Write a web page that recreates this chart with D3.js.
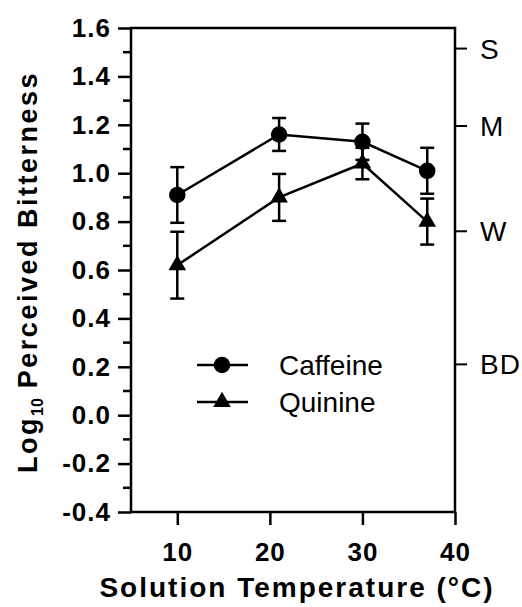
<!DOCTYPE html>
<html>
<head>
<meta charset="utf-8">
<script src="https://cdn.jsdelivr.net/npm/d3@7"></script>
<style>
  body { margin: 0; background: #fff; }
  text { font-family: Arial, "Liberation Sans", sans-serif; }
</style>
</head>
<body>
<div id="chart"></div>
<script>
// values
const temps = [10, 21, 30, 37];
const caffeine = [0.91, 1.16, 1.13, 1.01];
const caffeineErr = [0.115, 0.068, 0.075, 0.095];
const quinine = [0.62, 0.90, 1.04, 0.80];
const quinineErr = [0.138, 0.097, 0.065, 0.095];
const yTicks = [-0.4, -0.2, 0.0, 0.2, 0.4, 0.6, 0.8, 1.0, 1.2, 1.4, 1.6];
const xTicks = [10, 20, 30, 40];
const scaleLabels = ["S", "M", "W", "BD"];
const scaleValues = [1.515, 1.195, 0.76, 0.21];

const width = 522, height = 607;
const svg = d3.select("#chart").append("svg")
    .attr("width", width)
    .attr("height", height);

const x = d3.scaleLinear().domain([5, 40]).range([131, 455]);
const y = d3.scaleLinear().domain([-0.4, 1.6]).range([512, 28]);

// frame
svg.append("rect")
    .attr("x", x(5)).attr("y", y(1.6))
    .attr("width", x(40) - x(5)).attr("height", y(-0.4) - y(1.6))
    .attr("fill", "none").attr("stroke", "#000").attr("stroke-width", 2.5);

// left axis
const yAxis = svg.append("g")
    .attr("transform", `translate(${x(5)},0)`)
    .call(d3.axisLeft(y).tickValues(yTicks).tickSize(13).tickSizeOuter(0).tickPadding(7));
yAxis.select(".domain").remove();
yAxis.selectAll("line").attr("stroke-width", 2.5);
yAxis.selectAll("text").attr("font-size", 26).attr("font-weight", "bold").attr("fill", "#000")
    .attr("letter-spacing", 1)
    .text(d => d3.format(".1f")(d).replace("−", "-"));

// minor ticks
const minor = d3.range(-0.3, 1.6, 0.2);
svg.append("g").selectAll("line").data(minor).join("line")
    .attr("x1", x(5) - 8).attr("x2", x(5))
    .attr("y1", d => y(d)).attr("y2", d => y(d))
    .attr("stroke", "#000").attr("stroke-width", 2.5);

// bottom axis
const xAxis = svg.append("g")
    .attr("transform", `translate(0,${y(-0.4)})`)
    .call(d3.axisBottom(x).tickValues(xTicks).tickSize(13).tickSizeOuter(0).tickPadding(18));
xAxis.select(".domain").remove();
xAxis.selectAll("line").attr("stroke-width", 2.5);
xAxis.selectAll("text").attr("font-size", 26).attr("font-weight", "bold").attr("fill", "#000")
    .attr("letter-spacing", 1);

// right descriptor axis
const right = svg.append("g").attr("transform", `translate(${x(40)},0)`);
right.selectAll("line").data(scaleValues).join("line")
    .attr("x1", 0).attr("x2", 12)
    .attr("y1", d => y(d)).attr("y2", d => y(d))
    .attr("stroke", "#000").attr("stroke-width", 2);
right.selectAll("text").data(scaleLabels).join("text")
    .attr("x", 25).attr("y", (d, i) => y(scaleValues[i]))
    .attr("dy", "0.36em")
    .attr("font-size", 28)
    .attr("letter-spacing", 1)
    .text(d => d);

// axis titles
svg.append("text")
    .attr("x", 297).attr("y", 597)
    .attr("text-anchor", "middle")
    .attr("font-size", 28).attr("font-weight", "bold")
    .attr("letter-spacing", 2)
    .text("Solution Temperature (°C)");

const yt = svg.append("text")
    .attr("transform", `translate(37,272) rotate(-90)`)
    .attr("text-anchor", "middle")
    .attr("font-size", 27).attr("font-weight", "bold")
    .attr("letter-spacing", 2.5);
yt.append("tspan").text("Log");
yt.append("tspan").attr("font-size", 16).attr("dy", 6).attr("letter-spacing", 0).text("10");
yt.append("tspan").attr("dy", -6).text(" Perceived Bitterness");

// series
const series = [
    { name: "Caffeine", vals: caffeine, err: caffeineErr, shape: d3.symbolCircle },
    { name: "Quinine", vals: quinine, err: quinineErr, shape: d3.symbolTriangle }
];
const markerSize = s => s === d3.symbolCircle ? 215 : 135;

const line = d3.line().x(d => x(d[0])).y(d => y(d[1]));

series.forEach(s => {
    const pts = temps.map((t, i) => [t, s.vals[i], s.err[i]]);
    const g = svg.append("g");
    g.append("path")
        .attr("d", line(pts))
        .attr("fill", "none").attr("stroke", "#000").attr("stroke-width", 2.5);
    // error bars
    const eb = g.selectAll(".eb").data(pts).join("g");
    eb.append("line")
        .attr("x1", d => x(d[0])).attr("x2", d => x(d[0]))
        .attr("y1", d => y(d[1] - d[2])).attr("y2", d => y(d[1] + d[2]))
        .attr("stroke", "#000").attr("stroke-width", 2.5);
    [-1, 1].forEach(sg => {
        eb.append("line")
            .attr("x1", d => x(d[0]) - 7).attr("x2", d => x(d[0]) + 7)
            .attr("y1", d => y(d[1] + sg * d[2])).attr("y2", d => y(d[1] + sg * d[2]))
            .attr("stroke", "#000").attr("stroke-width", 2.5);
    });
    g.selectAll(".m").data(pts).join("path")
        .attr("transform", d => `translate(${x(d[0])},${y(d[1])})`)
        .attr("d", d3.symbol().type(s.shape).size(markerSize(s.shape)))
        .attr("fill", "#000");
});

// legend
const legend = svg.append("g");
series.forEach((s, i) => {
    const ly = 365 + i * 37;
    legend.append("line")
        .attr("x1", 197).attr("x2", 248).attr("y1", ly).attr("y2", ly)
        .attr("stroke", "#000").attr("stroke-width", 2.5);
    legend.append("path")
        .attr("transform", `translate(222,${ly})`)
        .attr("d", d3.symbol().type(s.shape).size(markerSize(s.shape)))
        .attr("fill", "#000");
    legend.append("text")
        .attr("x", 279).attr("y", ly).attr("dy", "0.36em")
        .attr("font-size", 28)
        .text(s.name);
});
</script>
</body>
</html>
